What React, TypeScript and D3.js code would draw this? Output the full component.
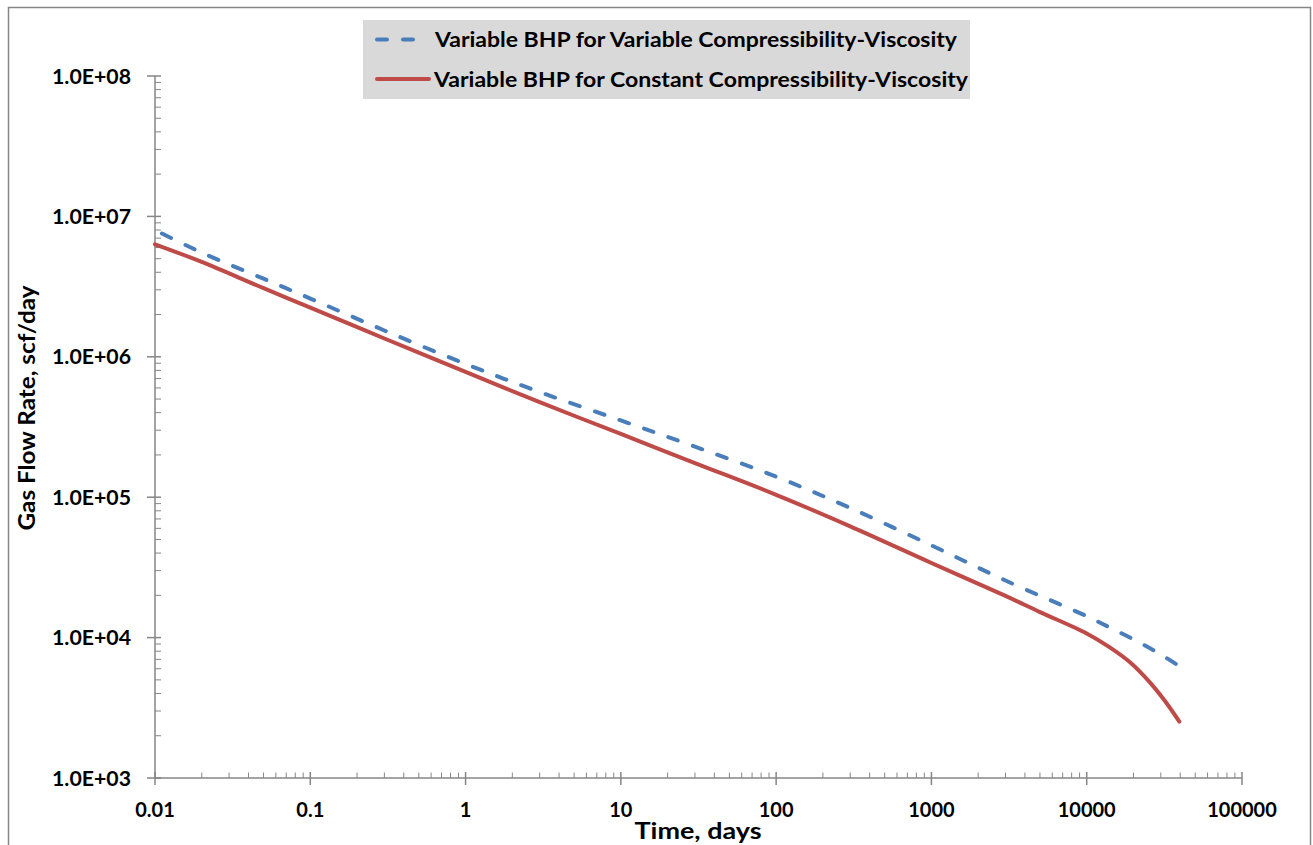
import React from 'react';
import * as d3 from 'd3';

const xTickLabels = ['0.01', '0.1', '1', '10', '100', '1000', '10000', '100000'];
const xTickValues = [0.01, 0.1, 1, 10, 100, 1000, 10000, 100000];
const yTickLabels = ['1.0E+03', '1.0E+04', '1.0E+05', '1.0E+06', '1.0E+07', '1.0E+08'];
const yTickValues = [1e3, 1e4, 1e5, 1e6, 1e7, 1e8];

const seriesNames = [
  'Variable BHP for Variable Compressibility-Viscosity',
  'Variable BHP for Constant Compressibility-Viscosity',
];

const timeVariable = [0.01, 0.02, 0.05, 0.1, 0.3, 1, 3, 10, 30, 100, 300, 1000, 3000, 10000, 14100, 20400, 29600, 40000];
const rateVariable = [8.0e6, 5.52e6, 3.6e6, 2.6e6, 1.54e6, 8.9e5, 5.61e5, 3.52e5, 2.29e5, 1.4e5, 8.38e4, 4.54e4, 2.55e4, 1.42e4, 1.18e4, 9.6e3, 7.65e3, 6.2e3];

const timeConstant = [0.01, 0.02, 0.05, 0.1, 0.3, 1, 3, 10, 30, 100, 300, 1000, 3000, 5000, 10000, 14000, 19000, 25500, 32000, 39500];
const rateConstant = [6.33e6, 4.74e6, 3.08e6, 2.24e6, 1.35e6, 7.8e5, 4.75e5, 2.82e5, 1.75e5, 1.04e5, 6.2e4, 3.4e4, 1.98e4, 1.52e4, 1.07e4, 8.55e3, 6.67e3, 4.8e3, 3.52e3, 2.52e3];

const W = 1313;
const H = 845;
const FONT = 'Lato, "Liberation Sans", Arial, sans-serif';
const AXIS = '#868686';
const BLUE = '#4A7EBB';
const RED = '#BE4B48';

export default function App() {
  const x = d3.scaleLog().domain([0.01, 100000]).range([155, 1242]);
  const y = d3.scaleLog().domain([1e3, 1e8]).range([778, 76]);

  const line = d3
    .line<[number, number]>()
    .x((d) => x(d[0]))
    .y((d) => y(d[1]))
    .curve(d3.curveCatmullRom.alpha(0.5));

  const varPts: [number, number][] = timeVariable.map((t, i) => [t, rateVariable[i]]);
  const conPts: [number, number][] = timeConstant.map((t, i) => [t, rateConstant[i]]);

  const xMinor: number[] = [];
  for (let k = -2; k < 5; k++) {
    for (let m = 2; m <= 9; m++) xMinor.push(m * Math.pow(10, k));
  }
  const yMinor: number[] = [];
  for (let k = 3; k < 8; k++) {
    for (let m = 2; m <= 9; m++) yMinor.push(m * Math.pow(10, k));
  }

  return (
    <svg
      width={W}
      height={H}
      style={{ position: 'absolute', left: 0, top: 0, background: '#fff' }}
      fontFamily={FONT}
    >
      <rect x={8.5} y={7.5} width={1302} height={900} fill="#fff" stroke={AXIS} strokeWidth={1.5} />

      {/* axes */}
      <line x1={155} x2={155} y1={76} y2={778} stroke={AXIS} strokeWidth={1.5} />
      <line x1={155} x2={1242} y1={778} y2={778} stroke={AXIS} strokeWidth={1.5} />

      {yTickValues.map((v) => (
        <line key={'ym' + v} x1={147} x2={161} y1={y(v)} y2={y(v)} stroke={AXIS} strokeWidth={1.5} />
      ))}
      {yMinor.map((v) => (
        <line key={'yn' + v} x1={155} x2={161} y1={y(v)} y2={y(v)} stroke={AXIS} strokeWidth={1} />
      ))}
      {xTickValues.map((v) => (
        <line key={'xm' + v} x1={x(v)} x2={x(v)} y1={772} y2={785} stroke={AXIS} strokeWidth={1.5} />
      ))}
      {xMinor.map((v) => (
        <line key={'xn' + v} x1={x(v)} x2={x(v)} y1={772.5} y2={778} stroke={AXIS} strokeWidth={1} />
      ))}

      {yTickValues.map((v, i) => (
        <text
          key={'yl' + v}
          x={131}
          y={y(v)}
          dy="0.36em"
          textAnchor="end"
          fontSize={21}
          fontWeight="bold"
          fill="#000"
          textLength={79}
          lengthAdjust="spacingAndGlyphs"
        >
          {yTickLabels[i]}
        </text>
      ))}
      {xTickValues.map((v, i) => (
        <text
          key={'xl' + v}
          x={x(v)}
          y={817}
          textAnchor="middle"
          fontSize={20}
          fontWeight="bold"
          fill="#000"
        >
          {xTickLabels[i]}
        </text>
      ))}

      {/* axis titles */}
      <text
        x={698}
        y={839}
        textAnchor="middle"
        fontSize={23}
        fontWeight="bold"
        fill="#000"
        textLength={127}
        lengthAdjust="spacingAndGlyphs"
      >
        Time, days
      </text>
      <text
        transform={`translate(35, 408) rotate(-90)`}
        textAnchor="middle"
        fontSize={22}
        fontWeight="bold"
        fill="#000"
        textLength={245}
        lengthAdjust="spacingAndGlyphs"
      >
        Gas Flow Rate, scf/day
      </text>

      {/* series */}
      <path
        d={line(conPts) || ''}
        fill="none"
        stroke={RED}
        strokeWidth={4}
        strokeLinecap="round"
        strokeLinejoin="round"
      />
      <path
        d={line(varPts) || ''}
        fill="none"
        stroke={BLUE}
        strokeWidth={4}
        strokeDasharray="10,16"
        strokeDashoffset={-8}
        strokeLinecap="round"
      />

      {/* legend */}
      <rect x={363} y={20} width={607} height={79} fill="#D9D9D9" />
      <line x1={377} x2={429} y1={39.5} y2={39.5} stroke={BLUE} strokeWidth={4} strokeDasharray="10,16" strokeLinecap="round" />
      <line x1={377} x2={429} y1={79} y2={79} stroke={RED} strokeWidth={4} strokeLinecap="round" />
      <text x={435} y={39.5} dy="0.36em" fontSize={21} fontWeight="bold" fill="#000" textLength={522} lengthAdjust="spacingAndGlyphs">
        {seriesNames[0]}
      </text>
      <text x={434} y={79} dy="0.36em" fontSize={21} fontWeight="bold" fill="#000" textLength={534} lengthAdjust="spacingAndGlyphs">
        {seriesNames[1]}
      </text>
    </svg>
  );
}
